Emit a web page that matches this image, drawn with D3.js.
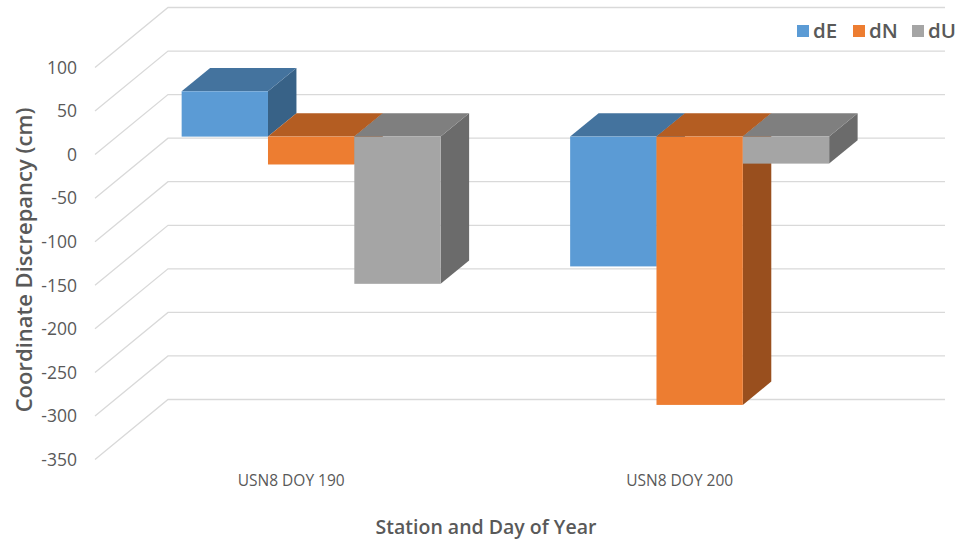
<!DOCTYPE html>
<html>
<head>
<meta charset="utf-8">
<script src="https://cdn.jsdelivr.net/npm/d3@7"></script>
<style>
  html, body { margin: 0; padding: 0; background: #fff; }
  svg { display: block; font-family: "Open Sans", Lato, sans-serif; }
</style>
</head>
<body>
<svg id="chart" width="963" height="542"></svg>
<script>
// Coordinate discrepancies per station/day, in cm
const categories = ["USN8 DOY 190", "USN8 DOY 200"];
const seriesNames = ["dE", "dN", "dU"];
const dE = [52, -149];
const dN = [-32, -308];
const dU = [-169, -31];
const yTicks = [100, 50, 0, -50, -100, -150, -200, -250, -300, -350];

const seriesValues = { dE, dN, dU };
const palette = {
  dE: { front: "#5B9BD5", top: "#44739E", side: "#386287" },
  dN: { front: "#ED7D31", top: "#B45D22", side: "#994F1E" },
  dU: { front: "#A5A5A5", top: "#7F7F7F", side: "#6B6B6B" }
};

const svg = d3.select("#chart");
const textColor = "#595959";
const gridColor = "#D9D9D9";

// Oblique 3D projection: floor front edge, and the depth vector to the back wall
const frontLeft = 95, frontRight = 872;
const depth = { x: 73, y: -60 };
const barDepth = [0.30, 0.69];   // bars occupy this slice of the floor depth

const y = d3.scaleLinear().domain([-350, 100]).range([459.5, 67.5]);
const x0 = d3.scaleBand().domain(categories).range([frontLeft, frontRight]).padding(0);
const x1 = d3.scaleBand().domain(seriesNames).range([0, x0.bandwidth()])
  .paddingInner(0).paddingOuter(0.75);

const pt = (x, yy, d) => [x + depth.x * d, yy + depth.y * d];
const poly = pts => pts.map(p => p.join(",")).join(" ");

// Side wall and back wall gridlines
const grid = svg.append("g");
yTicks.forEach(t => {
  const f = pt(frontLeft, y(t), 0);
  const b = pt(frontLeft, y(t), 1);
  const r = pt(frontRight, y(t), 1);
  grid.append("polyline")
    .attr("points", poly([f, b, r]))
    .attr("fill", "none")
    .attr("stroke", gridColor)
    .attr("stroke-width", 1.3);
});

// Value axis labels at the front edge
svg.append("g").selectAll("text").data(yTicks).join("text")
  .attr("x", 77)
  .attr("y", d => y(d))
  .attr("dy", "0.36em")
  .attr("text-anchor", "end")
  .attr("font-size", 17.5)
  .attr("fill", textColor)
  .text(d => d);

// Bars as prisms: side, top, then front face, drawn left to right
const bars = [];
categories.forEach((c, i) => {
  seriesNames.forEach(s => {
    bars.push({ cat: c, series: s, value: seriesValues[s][i] });
  });
});

const barG = svg.append("g");
bars.forEach(b => {
  const xl = x0(b.cat) + x1(b.series);
  const xr = xl + x1.bandwidth();
  const yTop = y(Math.max(0, b.value));
  const yBot = y(Math.min(0, b.value));
  const d0 = barDepth[0], d1 = barDepth[1];
  const col = palette[b.series];

  // right side face
  barG.append("polygon")
    .attr("points", poly([pt(xr, yTop, d0), pt(xr, yTop, d1), pt(xr, yBot, d1), pt(xr, yBot, d0)]))
    .attr("fill", col.side);
  // top face
  barG.append("polygon")
    .attr("points", poly([pt(xl, yTop, d0), pt(xl, yTop, d1), pt(xr, yTop, d1), pt(xr, yTop, d0)]))
    .attr("fill", col.top);
  // front face
  const f0 = pt(xl, yTop, d0), f1 = pt(xr, yBot, d0);
  barG.append("rect")
    .attr("x", f0[0]).attr("y", f0[1])
    .attr("width", f1[0] - f0[0]).attr("height", f1[1] - f0[1])
    .attr("fill", col.front);
});

// Category labels
svg.append("g").selectAll("text").data(categories).join("text")
  .attr("x", d => x0(d) + x0.bandwidth() / 2 + 2)
  .attr("y", 486)
  .attr("text-anchor", "middle")
  .attr("font-size", 15.5)
  .attr("fill", textColor)
  .text(d => d);

// Axis titles
svg.append("text")
  .attr("x", 486).attr("y", 534)
  .attr("text-anchor", "middle")
  .attr("font-size", 19.5).attr("font-weight", 600)
  .attr("fill", textColor)
  .text("Station and Day of Year");

svg.append("text")
  .attr("transform", "translate(32,260) rotate(-90)")
  .attr("text-anchor", "middle")
  .attr("font-size", 22).attr("font-weight", 600)
  .attr("fill", textColor)
  .text("Coordinate Discrepancy (cm)");

// Legend
const legendX = [797, 853, 912];
const legend = svg.append("g");
seriesNames.forEach((s, i) => {
  legend.append("rect")
    .attr("x", legendX[i]).attr("y", 25)
    .attr("width", 12).attr("height", 12)
    .attr("fill", palette[s].front);
  legend.append("text")
    .attr("x", legendX[i] + 16).attr("y", 31)
    .attr("dy", "0.36em")
    .attr("font-size", 20.5).attr("font-weight", 600)
    .attr("fill", textColor)
    .text(s);
});
</script>
</body>
</html>
